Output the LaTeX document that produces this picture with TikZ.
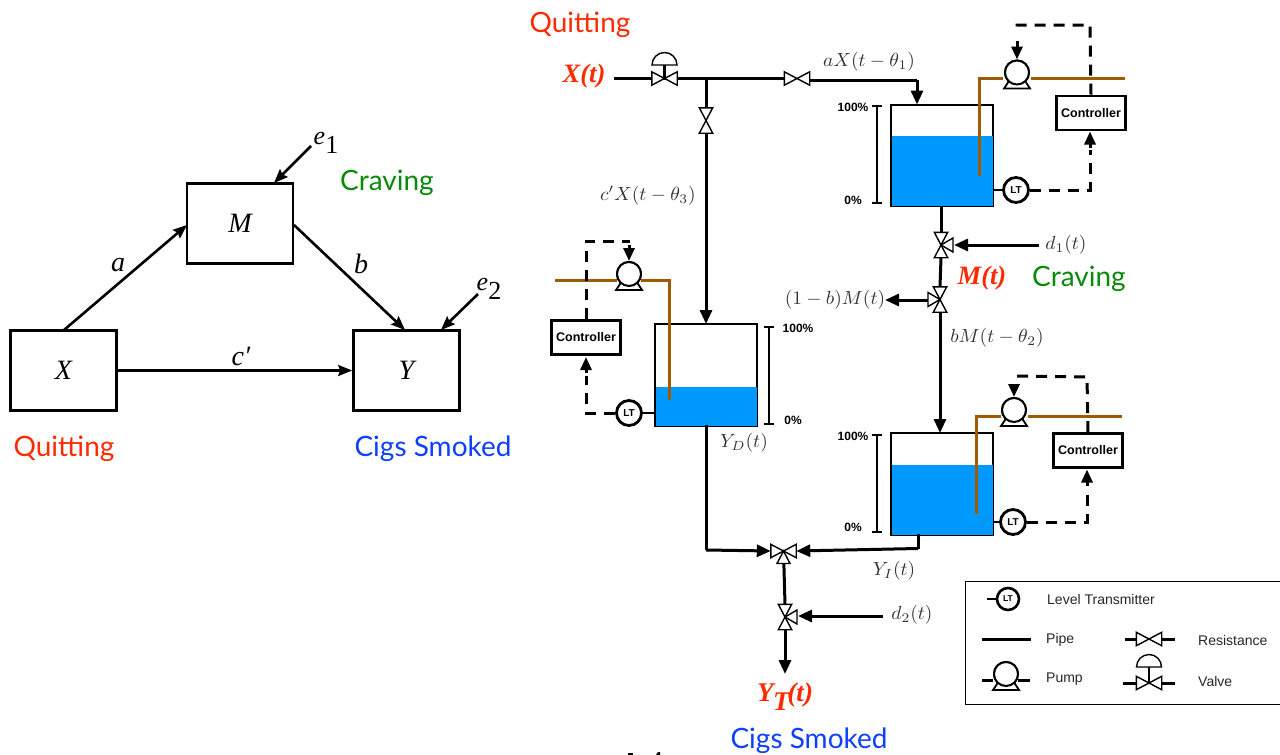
\documentclass[tikz,border=0pt]{standalone}
\usepackage[no-math]{fontspec}
\usetikzlibrary{arrows.meta,calc}
\newfontfamily\gill{Lato}
\newfontfamily\hel{Liberation Sans}
\newfontfamily\tim{Liberation Serif}
\definecolor{qred}{HTML}{FF2A00}
\definecolor{cgreen}{HTML}{0A8A0A}
\definecolor{sblue}{HTML}{0F3FFF}
\definecolor{water}{HTML}{0099FF}
\definecolor{brown1}{HTML}{A05A00}
\definecolor{mtext}{HTML}{333333}
\tikzset{
  x=1pt,y=-1pt,
  pathbox/.style={draw,line width=2.6pt,minimum width=106pt,minimum height=80pt,inner sep=0,font=\tim\itshape\fontsize{28}{30}\selectfont},
  semarrow/.style={line width=2.6pt,-{Stealth[length=14pt,width=11pt,inset=2pt]}},
  gilllab/.style={inner sep=0,font=\gill\fontsize{28}{32}\selectfont},
  semlab/.style={inner sep=0,font=\tim\itshape\fontsize{28}{30}\selectfont},
  varlab/.style={inner sep=0,text=qred,font=\tim\bfseries\itshape\fontsize{26.5}{30}\selectfont},
  mathlab/.style={inner sep=0,text=mtext,xscale=1.95,yscale=1.9},
  pipe/.style={line width=3pt},
  flow/.style={line width=3pt,-{Triangle[length=14pt,width=12pt]}},
  brownpipe/.style={line width=3pt,draw=brown1},
  signal/.style={line width=3pt,dash pattern=on 11pt off 8pt},
  sigtip/.style={line width=3pt,-{Triangle[length=13pt,width=11pt]}},
  tankbox/.style={draw,line width=1.3pt,minimum width=101pt,minimum height=101pt,inner sep=0},
  water/.style={fill=water},
  ctrl/.style={draw,line width=2.6pt,minimum width=69pt,minimum height=34pt,inner sep=0,font=\hel\bfseries\fontsize{12.5}{14}\selectfont},
  ltnode/.style={draw,circle,fill=white,line width=2.8pt,minimum size=25pt,inner sep=0,font=\hel\bfseries\fontsize{10}{12}\selectfont},
  pumpnode/.style={draw,circle,fill=white,line width=2pt,minimum size=24pt,inner sep=0},
  pumpbase/.style={line width=1.8pt,fill=white},
  bow/.style={draw,line width=1.4pt,fill=white,line join=miter},
  valvebox/.style={inner sep=0,minimum width=25pt,minimum height=13pt},
  vvalvebox/.style={inner sep=0,minimum width=13pt,minimum height=25pt},
  pct/.style={inner sep=0,font=\hel\bfseries\fontsize{12}{14}\selectfont},
  scalebar/.style={line width=2.8pt},
  leg/.style={inner sep=0,anchor=west,text=black!85,font=\hel\fontsize{14}{16}\selectfont},
}
\newcommand{\Pump}[2]{\node[pumpnode] (#1) at (#2) {};
  \draw[pumpbase] ($(#1)+(-7,7)$)--($(#1)+(-13,16)$)--($(#1)+(13,16)$)--($(#1)+(7,7)$);
  \draw[line width=2pt,fill=white] (#1) circle (12pt);}
\newcommand{\Dome}[1]{\draw[bow] ($(#1)+(-12.5,0)$) arc[start angle=180,end angle=0,radius=12.5pt] -- cycle;}
\newcommand{\Tank}[4]{% name, x of left, y of top, water top
  \node[tankbox,anchor=north west] (#1) at (#2,#3) {};
  \fill[water] (#2,#4) rectangle ($(#1.south east)$);
  \draw[line width=1.3pt] (#1.north west) rectangle (#1.south east);}
\newcommand{\Bar}[3]{% x, ytop, ybot
  \draw[scalebar] (#1,#2)--(#1,#3) (#1-5,#2)--(#1+5,#2) (#1-5,#3)--(#1+5,#3);}
\begin{document}
\begin{tikzpicture}
\useasboundingbox (0,0) rectangle (1280,755);
% ---------- left path diagram
\node[pathbox] (M) at (240,223.5) {\tim\itshape M};
\node[pathbox] (X) at (63.5,370.5) {\tim\itshape X};
\node[pathbox] (Y) at (406.5,370.5) {\tim\itshape Y};
\coordinate (Xa) at (64,330); \coordinate (Ma) at (187,225);
\coordinate (Mb) at (294,225); \coordinate (Yb) at (405,330);
\coordinate (e1s) at (311,146); \coordinate (e1t) at (274,183);
\coordinate (e2s) at (478,294); \coordinate (e2t) at (441,330);
\draw[semarrow] (Xa)--(Ma);
\draw[semarrow] (Mb)--(Yb);
\draw[semarrow] (X.east)--(Y.west);
\draw[semarrow] (e1s)--(e1t);
\draw[semarrow] (e2s)--(e2t);
\node[semlab] (la) at (118,265) {a};
\node[semlab] (lb) at (361,264) {b};
\node[semlab] (lc) at (241,356) {c′};
\node[semlab,font=\tim\itshape\fontsize{26}{30}\selectfont] (le1) at (326,143) {e\raisebox{-9pt}{\upshape 1}};
\node[semlab,font=\tim\itshape\fontsize{26}{30}\selectfont] (le2) at (489,289) {e\raisebox{-9pt}{\upshape 2}};
\node[gilllab,text=cgreen] (cr1) at (387,183) {Craving};
\node[gilllab,text=qred] (qu1) at (64,449) {Quitting};
\node[gilllab,text=sblue] (ci1) at (433,449) {Cigs Smoked};
% ---------- tanks
\Tank{T1}{891}{104.5}{136}
\Tank{T2}{655}{324}{387}
\Tank{T3}{891}{433}{465}
\Bar{877}{106}{203}
\Bar{769}{327}{424}
\Bar{877}{435}{532}
\node[pct] (p1a) at (853,107) {100\%};
\node[pct] (p1b) at (853,200) {0\%};
\node[pct] (p2a) at (798,328) {100\%};
\node[pct] (p2b) at (793,420) {0\%};
\node[pct] (p3a) at (853,436) {100\%};
\node[pct] (p3b) at (853,527) {0\%};
% ---------- inlet
\node[varlab] (xt) at (584,76.5) {X(t)};
\node[gilllab,text=qred] (qu2) at (580,25) {Quitting};
\coordinate (xs) at (614,78.5);
\coordinate (j1) at (706,78.5);
\node[valvebox] (v0) at (664.5,78.5) {};
\node[valvebox] (r1) at (797,78.5) {};
\node[vvalvebox] (r2) at (706,120.5) {};
\coordinate (t1in) at (917,80);
\draw[pipe] (xs)--(r1.west);
\draw[pipe] (j1)--(r2.north);
\draw[flow] (r2.south)--(r2.south |- T2.north);
\draw[pipe] (r1.east |- t1in)--(t1in);
\draw[flow] (t1in)--(t1in |- T1.north);
\draw[bow] (v0.north west)--(v0.south east)--(v0.north east)--(v0.south west)--cycle;
\draw[line width=2.8pt] (v0.center)--++(0,-14);
\coordinate (d0) at (664.5,65);
\Dome{d0}
\draw[bow] (r1.north west)--(r1.south east)--(r1.north east)--(r1.south west)--cycle;
\draw[bow] (r2.north west)--(r2.south east)--(r2.south west)--(r2.north east)--cycle;
\node[mathlab] (l1) at (869,62) {$aX(t-\theta_1)$};
\node[mathlab] (l2) at (648,196) {$c'X(t-\theta_3)$};
% ---------- middle stream
\node[vvalvebox] (v1) at (941,245) {};
\node[vvalvebox] (v2) at (940,299.5) {};
\coordinate (t1out) at (941,205.5);
\coordinate (d1s) at (1039,245);
\coordinate (m2l) at (928,300);
\coordinate (m2t) at (885,300);
\draw[pipe] (t1out)--(v1.north);
\draw[pipe] (v1.south)--(v2.north);
\draw[flow] (v2.south)--(v2.south |- T3.north);
\draw[flow] (d1s)--(954,245);
\draw[flow] (m2l)--(m2t);
\draw[bow] (v1.north west)--(v1.south east)--(v1.south west)--(v1.north east)--cycle;
\draw[bow] (v1.center)--++(12,-7)--++(0,14)--cycle;
\draw[bow] (v2.north west)--(v2.south east)--(v2.south west)--(v2.north east)--cycle;
\draw[bow] (v2.center)--++(-12,-7)--++(0,14)--cycle;
\node[mathlab] (l3) at (1066,245) {$d_1(t)$};
\node[mathlab] (l4) at (835,300) {$(1-b)M(t)$};
\node[mathlab] (l5) at (997,338) {$bM(t-\theta_2)$};
\node[varlab] (mt) at (982,278) {M(t)};
\node[gilllab,text=cgreen] (cr2) at (1079,279) {Craving};
% ---------- tank 1 control
\Pump{P1}{1017,72.5}
\coordinate (b1a) at (979,176); \coordinate (b1b) at (979,78);
\coordinate (b1c) at (1125,78);
\draw[brownpipe] (b1a)--(b1b)--(1003,78);
\draw[brownpipe] (1031,78)--(b1c);
\node[ctrl] (C1) at (1091,113) {Controller};
\node[ltnode] (L1) at (1016,190) {LT};
\draw[line width=1.2pt] (T1.east |- L1)--(L1);
\coordinate (s1) at (1017,25); \coordinate (c1) at (1090,25);
\draw[signal] (C1.north)--(c1)--(s1)--(1017,33);
\draw[sigtip] (1017,41)--(P1.north);
\coordinate (l1c) at (1090,190);
\draw[signal] (L1.east)--(l1c)--(1090,150);
\draw[sigtip] (1090,148)--(1090,131.5);
% ---------- tank 2 control
\Pump{P2}{629,274}
\coordinate (b2a) at (669.5,400); \coordinate (b2b) at (669.5,280);
\coordinate (b2c) at (555,280);
\draw[brownpipe] (b2a)--(b2b)--(641,280);
\draw[brownpipe] (617,280)--(b2c);
\node[ctrl] (C2) at (586,337.5) {Controller};
\node[ltnode] (L2) at (629,413) {LT};
\draw[line width=1.2pt] (T2.west |- L2)--(L2);
\coordinate (s2) at (630,241); \coordinate (c2) at (586,241);
\draw[signal] (C2.north)--(c2)--(s2);
\draw[sigtip] (629,245)--(P2.north);
\coordinate (l2c) at (586,413);
\draw[signal] (L2.west)--(l2c)--(586,376);
\draw[sigtip] (586,373)--(586,357);
% ---------- tank 3 control
\Pump{P3}{1014,410}
\coordinate (b3a) at (976,514); \coordinate (b3b) at (976,416);
\coordinate (b3c) at (1122,416);
\draw[brownpipe] (b3a)--(b3b)--(1001,416);
\draw[brownpipe] (1028,416)--(b3c);
\node[ctrl] (C3) at (1088,450.5) {Controller};
\node[ltnode] (L3) at (1013,522) {LT};
\draw[line width=1.2pt] (T3.east |- L3)--(L3);
\coordinate (s3) at (1017,376); \coordinate (c3) at (1087,377);
\draw[signal] (C3.north)--(c3)--(s3);
\draw[sigtip] (1014,384)--(P3.north);
\coordinate (l3c) at (1087,522);
\draw[signal] (L3.east)--(l3c)--(1087,488);
\draw[sigtip] (1087,486)--(1087,469.5);
% ---------- outlet
\node[valvebox] (v3) at (783.5,551) {};
\node[vvalvebox] (v4) at (785,617) {};
\coordinate (t2o) at (706,425); \coordinate (t2c) at (706,550);
\coordinate (t3o) at (918,534); \coordinate (t3c) at (918,548.5);
\coordinate (d2s) at (883,616);
\coordinate (yt) at (785,674);
\draw[pipe] (t2o)--(t2c);
\draw[flow] (t2c)--(v3.west);
\draw[pipe] (t3o)--(t3c);
\draw[flow] (t3c)--(v3.east);
\draw[pipe] (v3.center)--(v4.north);
\draw[flow] (v4.south)--(yt);
\draw[flow] (d2s)--(798,616);
\draw[bow] (v3.center)--++(-6.5,12.5)--++(13,0)--cycle;
\draw[bow] (v3.north west)--(v3.south east)--(v3.north east)--(v3.south west)--cycle;
\draw[bow] (v4.center)--++(12,-7)--++(0,14)--cycle;
\draw[bow] (v4.north west)--(v4.south east)--(v4.south west)--(v4.north east)--cycle;
\node[mathlab] (l6) at (744,443) {$Y_D(t)$};
\node[mathlab] (l7) at (894,571) {$Y_I(t)$};
\node[mathlab] (l8) at (912,615) {$d_2(t)$};
\node[varlab,font=\tim\bfseries\itshape\fontsize{27}{30}\selectfont] (ytl) at (785,697) {Y\kern-0.5pt\raisebox{-9pt}{T}\kern-2pt(t)};
\node[gilllab,text=sblue] (ci2) at (809,741) {Cigs Smoked};
% ---------- cropped fragment at the lower edge
\fill (628,753) rectangle (633,755);
\fill (656,755) -- (658,752) -- (660,752) -- (660,755) -- cycle;
% ---------- legend
\node[draw,line width=1.3pt,anchor=north west,minimum width=316pt,minimum height=123pt,inner sep=0] (lg) at (965,581) {};
\node[ltnode,line width=2.6pt,minimum size=22pt,font=\hel\bfseries\fontsize{8.5}{10}\selectfont] (lgL) at (1008,599) {LT};
\coordinate (lgL0) at (987,599);
\draw[line width=1.4pt] (lgL0)--(lgL);
\node[leg] (t1) at (1047,599) {Level Transmitter};
\coordinate (lp1) at (982,639); \coordinate (lp2) at (1031,639);
\draw[pipe] (lp1)--(lp2);
\node[leg] (t2) at (1046,640) {Pipe};
\coordinate (lq1) at (982,680); \coordinate (lq2) at (1030,680);
\Pump{lgP}{1006,674}
\draw[pipe] (lq1)--(993,680);
\draw[pipe] (1018,680)--(lq2);
\node[leg] (t3) at (1046,679) {Pump};
\node[valvebox] (lgR) at (1149,639) {};
\coordinate (lr1) at (1125,639); \coordinate (lr2) at (1175,639);
\draw[pipe] (lr1)--(lgR.west);
\draw[pipe] (lgR.east)--(lr2);
\draw[bow] (lgR.north west)--(lgR.south east)--(lgR.north east)--(lgR.south west)--cycle;
\node[leg] (t4) at (1198,640) {Resistance};
\node[valvebox] (lgV) at (1149,683) {};
\coordinate (lv1) at (1123,683); \coordinate (lv2) at (1175,683);
\draw[pipe] (lv1)--(lgV.west);
\draw[pipe] (lgV.east)--(lv2);
\draw[line width=2.6pt] (lgV.center)--++(0,-16);
\draw[bow] (lgV.north west)--(lgV.south east)--(lgV.north east)--(lgV.south west)--cycle;
\coordinate (lgD) at (1149,667);
\Dome{lgD}
\node[leg] (t5) at (1198,681) {Valve};
\end{tikzpicture}
\end{document}
